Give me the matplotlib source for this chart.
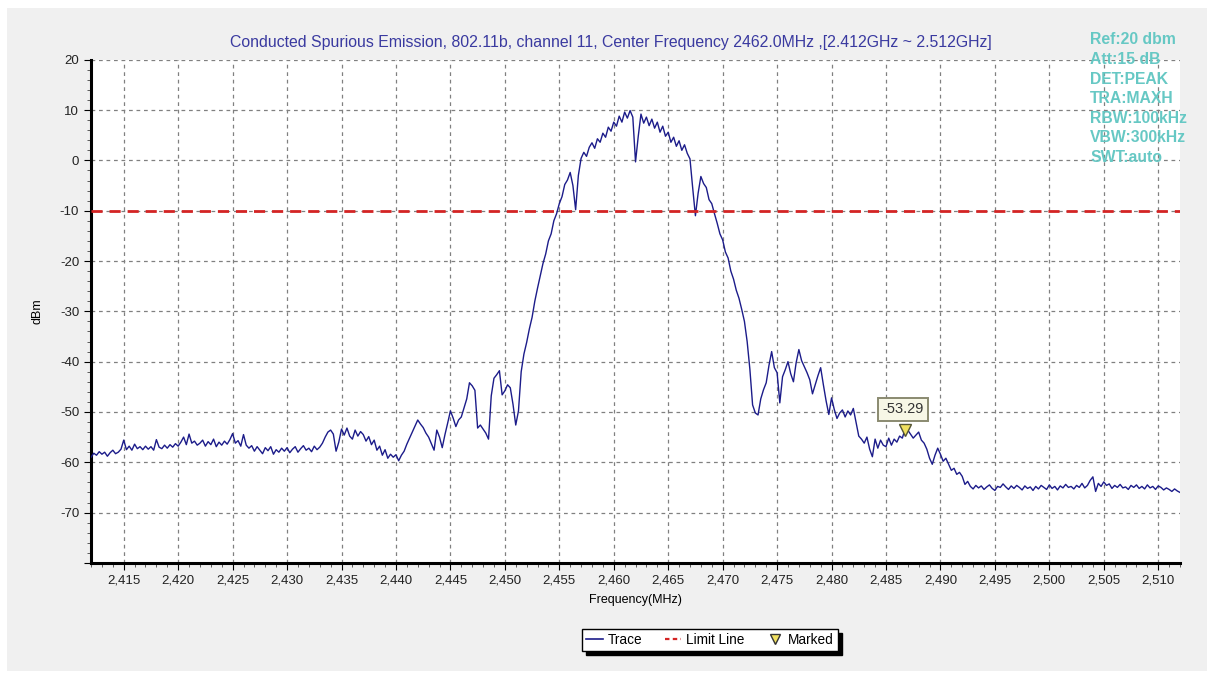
"""
Conducted spurious emission plot, 802.11b channel 11.
"""
import matplotlib
matplotlib.use('Agg')
import matplotlib.pyplot as plt
from matplotlib.lines import Line2D
from matplotlib.patches import Rectangle
from matplotlib.ticker import FuncFormatter, MultipleLocator
import numpy as np

plt.rcParams['font.family'] = ['Liberation Sans', 'DejaVu Sans']

# sweep grid (MHz)
f_start = 2412.0
f_stop = 2512.0
n_points = 401

# trace values (dBm), one row = 5 MHz
trace = [
    -59.0, -58.2, -58.6, -57.9, -58.4, -58.0, -58.8, -58.1, -57.6, -58.3,
    -58.0, -57.4, -55.6, -57.5, -56.8, -57.6, -56.4, -57.3, -56.9, -57.5,
    -56.8, -57.4, -56.9, -57.6, -55.5, -57.0, -57.3, -56.6, -57.2, -56.5,
    -57.0, -56.3, -56.8, -56.0, -55.0, -56.5, -54.4, -56.2, -55.8, -56.6,
    -56.2, -55.6, -56.8, -55.9, -56.5, -55.4, -56.9, -56.0, -56.6, -55.8,
    -56.4, -55.5, -54.3, -56.2, -55.7, -56.8, -54.5, -56.6, -57.2, -56.7,
    -57.8, -56.9, -57.6, -58.3, -57.1, -57.7, -56.9, -58.4, -57.5, -58.0,
    -57.2, -57.8, -57.1, -58.1, -57.4, -56.9, -58.0, -57.3, -56.7, -57.6,
    -57.2, -57.9, -56.8, -57.5, -57.0, -56.2, -55.0, -54.0, -53.6, -54.4,
    -57.8, -56.0, -53.4, -54.6, -53.2, -54.8, -55.4, -53.6, -54.8, -53.9,
    -54.5, -55.8, -54.9, -56.5, -55.6, -57.6, -56.8, -58.6, -57.5, -59.2,
    -58.4, -59.0, -58.5, -59.7, -58.6, -57.8, -56.4, -55.2, -54.0, -52.8,
    -51.6, -52.4, -53.1, -54.2, -55.0, -56.3, -57.6, -53.6, -55.0, -57.1,
    -54.5, -52.2, -49.8, -51.2, -52.9, -51.6, -51.0, -49.2, -47.4, -44.2,
    -44.8, -45.7, -53.2, -52.6, -53.4, -54.2, -55.4, -46.8, -43.3, -42.6,
    -41.8, -46.6, -45.8, -44.6, -45.2, -48.5, -52.6, -49.8, -42.0, -38.5,
    -36.2, -33.5, -31.2, -28.0, -25.4, -23.0, -20.5, -18.6, -16.0, -14.6,
    -12.0, -10.6, -8.6, -7.2, -4.8, -3.9, -2.4, -5.0, -9.8, -3.0,
    0.4, 1.6, 0.8, 2.6, 3.5, 2.4, 4.3, 3.6, 5.4, 4.6,
    6.6, 5.8, 7.6, 6.8, 8.8, 7.6, 9.6, 8.4, 9.9, 8.6,
    -0.3, 4.8, 9.2, 7.4, 8.6, 6.9, 8.2, 6.4, 7.6, 5.6,
    6.8, 4.8, 5.6, 3.6, 4.6, 2.8, 3.9, 2.0, 3.1, 1.4,
    0.3, -5.5, -11.0, -6.5, -3.2, -4.6, -5.4, -7.8, -8.6, -10.6,
    -12.5, -14.6, -15.8, -18.2, -19.4, -22.0, -23.6, -25.8, -27.4, -29.6,
    -32.0, -36.0, -41.5, -48.6, -50.2, -50.6, -47.4, -45.6, -44.2, -40.8,
    -38.0, -41.2, -42.2, -48.2, -43.0, -41.6, -40.0, -42.4, -44.0, -40.2,
    -37.6, -39.8, -41.0, -42.2, -43.6, -46.4, -44.6, -42.8, -41.2, -44.6,
    -47.8, -50.5, -47.2, -49.5, -51.3, -50.2, -49.6, -51.0, -49.8, -50.6,
    -49.3, -52.0, -54.8, -55.4, -56.2, -55.0, -57.4, -58.9, -55.4, -57.2,
    -55.6, -56.6, -56.9, -55.2, -56.6, -55.4, -56.0, -54.8, -55.2, -53.4,
    -53.6, -54.4, -55.2, -54.6, -54.0, -55.6, -56.2, -57.4, -59.2, -60.4,
    -58.6, -57.2, -58.4, -59.8, -59.2, -60.4, -61.6, -61.2, -62.4, -62.0,
    -62.8, -64.4, -63.8, -64.8, -65.3, -64.6, -65.1, -64.7, -65.4, -64.9,
    -64.5, -65.2, -65.6, -64.8, -65.0, -64.3, -64.9, -65.4, -64.7, -65.2,
    -64.6, -65.0, -65.5, -64.7, -65.2, -64.9, -65.6, -64.8, -65.3, -64.6,
    -65.0, -65.4, -64.5, -65.2, -64.8, -65.5, -64.7, -65.1, -64.4, -65.0,
    -64.8, -65.3, -64.6, -65.0, -64.2, -65.1, -64.6, -63.6, -62.9, -65.8,
    -64.2, -64.8, -63.9, -64.6, -64.3, -65.2, -64.6, -65.0, -64.4, -65.1,
    -64.9, -65.4, -64.6, -65.0, -64.5, -65.2, -64.8, -65.3, -64.5, -65.1,
    -64.8, -65.4, -64.7, -65.0, -65.5, -65.1, -65.4, -65.8, -65.3, -65.7,
    -66.0,
]

limit_level = -10.0
marker_freq = 2486.7
marker_level = -53.29

title = ('Conducted Spurious Emission, 802.11b, channel 11, Center Frequency '
         '2462.0MHz ,[2.412GHz ~ 2.512GHz]')
settings = ['Ref:20 dbm', 'Att:15 dB', 'DET:PEAK', 'TRA:MAXH',
            'RBW:100kHz', 'VBW:300kHz', 'SWT:auto']

freqs = np.linspace(f_start, f_stop, n_points)

fig = plt.figure(figsize=(12.14, 6.79), dpi=100)
fig.patch.set_facecolor('white')
fig.patches.append(Rectangle((0.006, 0.012), 0.988, 0.976,
                             transform=fig.transFigure,
                             facecolor='#f0f0f0', edgecolor='none',
                             zorder=-10))

ax = fig.add_axes([0.075, 0.171, 0.897, 0.741])
ax.set_facecolor('white')

ax.plot(freqs, trace, color='#1c1c8a', linewidth=1.0, zorder=3)
ax.axhline(limit_level, color='#d42424', linewidth=2.0,
           linestyle=(0, (4, 2.5)), zorder=4)
ax.plot([marker_freq], [marker_level - 0.2], marker='v', color='#f0e060',
        markeredgecolor='#555533', markersize=8, linestyle='none', zorder=5)
ax.annotate(f'{marker_level:.2f}', xy=(marker_freq - 0.1, marker_level + 3.8),
            ha='center', va='center', fontsize=10.5, color='#333333',
            bbox=dict(boxstyle='square,pad=0.3', facecolor='#f7f7e6',
                      edgecolor='#8a8a70', linewidth=1.4), zorder=6)

ax.set_xlim(f_start, f_stop)
ax.set_ylim(-80, 20)
ax.xaxis.set_major_locator(MultipleLocator(5))
ax.xaxis.set_minor_locator(MultipleLocator(1))
ax.yaxis.set_major_locator(MultipleLocator(10))
ax.yaxis.set_minor_locator(MultipleLocator(2))
ax.xaxis.set_major_formatter(FuncFormatter(lambda v, _: f'{v:,.0f}'))
ax.yaxis.set_major_formatter(
    FuncFormatter(lambda v, _: '' if v < -75 else f'{v:.0f}'))
ax.set_xticks([t for t in range(2415, 2512, 5)])

ax.grid(True, which='major', color='#808080', linestyle=(0, (3, 3)),
        linewidth=0.9)
ax.tick_params(axis='both', which='major', labelsize=9.5, length=5,
               color='black', labelcolor='#222222')
ax.tick_params(axis='both', which='minor', length=3, color='#444444')
for side in ('top', 'right'):
    ax.spines[side].set_visible(False)
for side in ('left', 'bottom'):
    ax.spines[side].set_linewidth(2.2)
    ax.spines[side].set_color('black')

ax.set_xlabel('Frequency(MHz)', fontsize=9, labelpad=5)
ax.set_ylabel('dBm', fontsize=9, labelpad=12)

fig.text(0.503, 0.938, title, ha='center', va='center', fontsize=11.4,
         color='#3a3aa0')
for i, line in enumerate(settings):
    fig.text(0.898, 1 - (40 + i * 19.6) / 679, line, ha='left', va='center',
             fontsize=11.3, fontweight='bold', color='#66c8c4')

legend_elements = [
    Line2D([0], [0], color='#1c1c8a', linewidth=1.2, label='Trace'),
    Line2D([0], [0], color='#d42424', linewidth=1.6,
           linestyle=(0, (2, 1.5)), label='Limit Line'),
    Line2D([0], [0], marker='v', color='none', markerfacecolor='#f0e060',
           markeredgecolor='#333333', markersize=7, label='Marked'),
]
fig.legend(handles=legend_elements, loc='center',
           bbox_to_anchor=(0.585, 1 - 640 / 679), ncol=3, fontsize=9.8,
           frameon=True, fancybox=False, edgecolor='black',
           shadow={'color': 'black', 'alpha': 1, 'ox': 3, 'oy': -3},
           framealpha=1, handlelength=1.2, handletextpad=0.4,
           columnspacing=1.6, borderpad=0.3)

fig.savefig('out.png', dpi=100)
